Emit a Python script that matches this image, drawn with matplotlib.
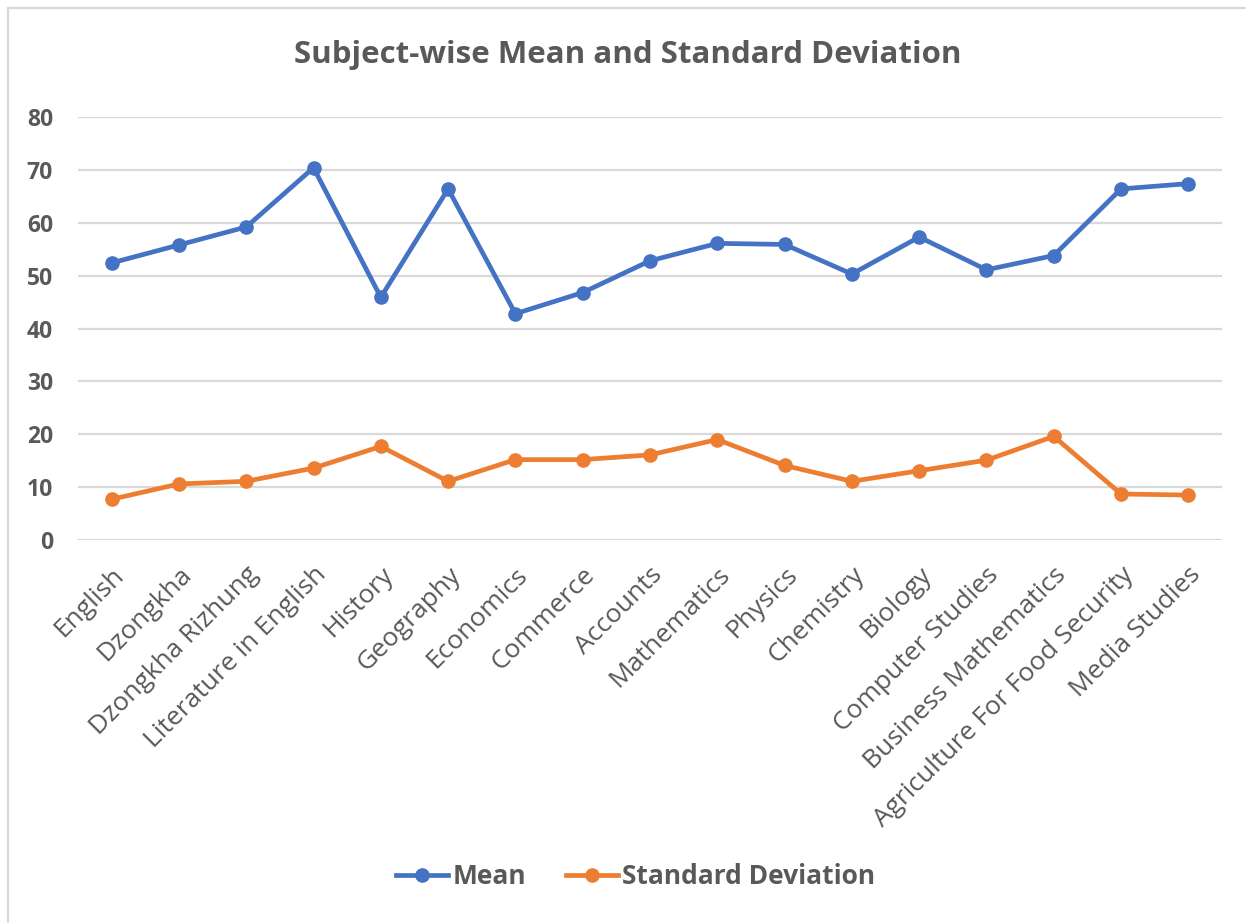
import matplotlib
matplotlib.use("Agg")
import matplotlib.pyplot as plt
from matplotlib.patches import Rectangle

subjects = ["English", "Dzongkha", "Dzongkha Rizhung", "Literature in English",
            "History", "Geography", "Economics", "Commerce", "Accounts",
            "Mathematics", "Physics", "Chemistry", "Biology", "Computer Studies",
            "Business Mathematics", "Agriculture For Food Security", "Media Studies"]
mean = [52.4, 55.8, 59.2, 70.4, 45.9, 66.4, 42.8, 46.8, 52.8, 56.1, 55.9,
        50.3, 57.3, 51.1, 53.8, 66.4, 67.4]
std_dev = [7.7, 10.6, 11.1, 13.6, 17.7, 11.1, 15.2, 15.2, 16.1, 19.0, 14.1,
           11.1, 13.1, 15.1, 19.6, 8.7, 8.5]

txt = "#595959"
plt.rcParams["font.family"] = ["Open Sans", "DejaVu Sans"]

W, H = 1246, 923
fig = plt.figure(figsize=(W / 100, H / 100), dpi=100)

# chart border (cropped at right/bottom in the reference)
fig.patches.append(Rectangle((8 / W, -0.1), 1.2, 1.1 - 8 / H, transform=fig.transFigure,
                             fill=False, edgecolor="#D9D9D9", linewidth=1.6))

ax = fig.add_axes([78 / W, (H - 540) / H, 1144 / W, 423 / H])
x = range(len(subjects))
ax.plot(x, mean, color="#4472C4", lw=3.4, marker="o", ms=9.5, label="Mean")
ax.plot(x, std_dev, color="#ED7D31", lw=3.4, marker="o", ms=9.5, label="Standard Deviation")

ax.set_xlim(-0.5, len(subjects) - 0.5)
ax.set_ylim(0, 80)
ax.set_yticks(range(0, 81, 10))
ax.grid(axis="y", color="#D9D9D9", lw=1.6)
ax.set_axisbelow(True)
for s in ax.spines.values():
    s.set_visible(False)
ax.tick_params(length=0)
ax.tick_params(axis="y", pad=18, labelsize=16.5, labelcolor=txt)
for t in ax.get_yticklabels():
    t.set_fontweight("bold")
ax.set_xticks(list(x))
ax.set_xticklabels(subjects, rotation=45, ha="right", rotation_mode="anchor",
                   fontsize=19, color=txt)
ax.tick_params(axis="x", pad=16)

fig.text(0.504, 1 - 55 / H, "Subject-wise Mean and Standard Deviation", ha="center",
         va="center", fontsize=22.5, fontweight="bold", color=txt)

leg = fig.legend(loc="center", bbox_to_anchor=(0.51, 1 - 877 / H), ncol=2, frameon=False,
                 fontsize=19, handlelength=2.0, handletextpad=0.15, columnspacing=1.5)
for t in leg.get_texts():
    t.set_color(txt)
    t.set_fontweight("bold")

fig.savefig("out.png", dpi=100)
